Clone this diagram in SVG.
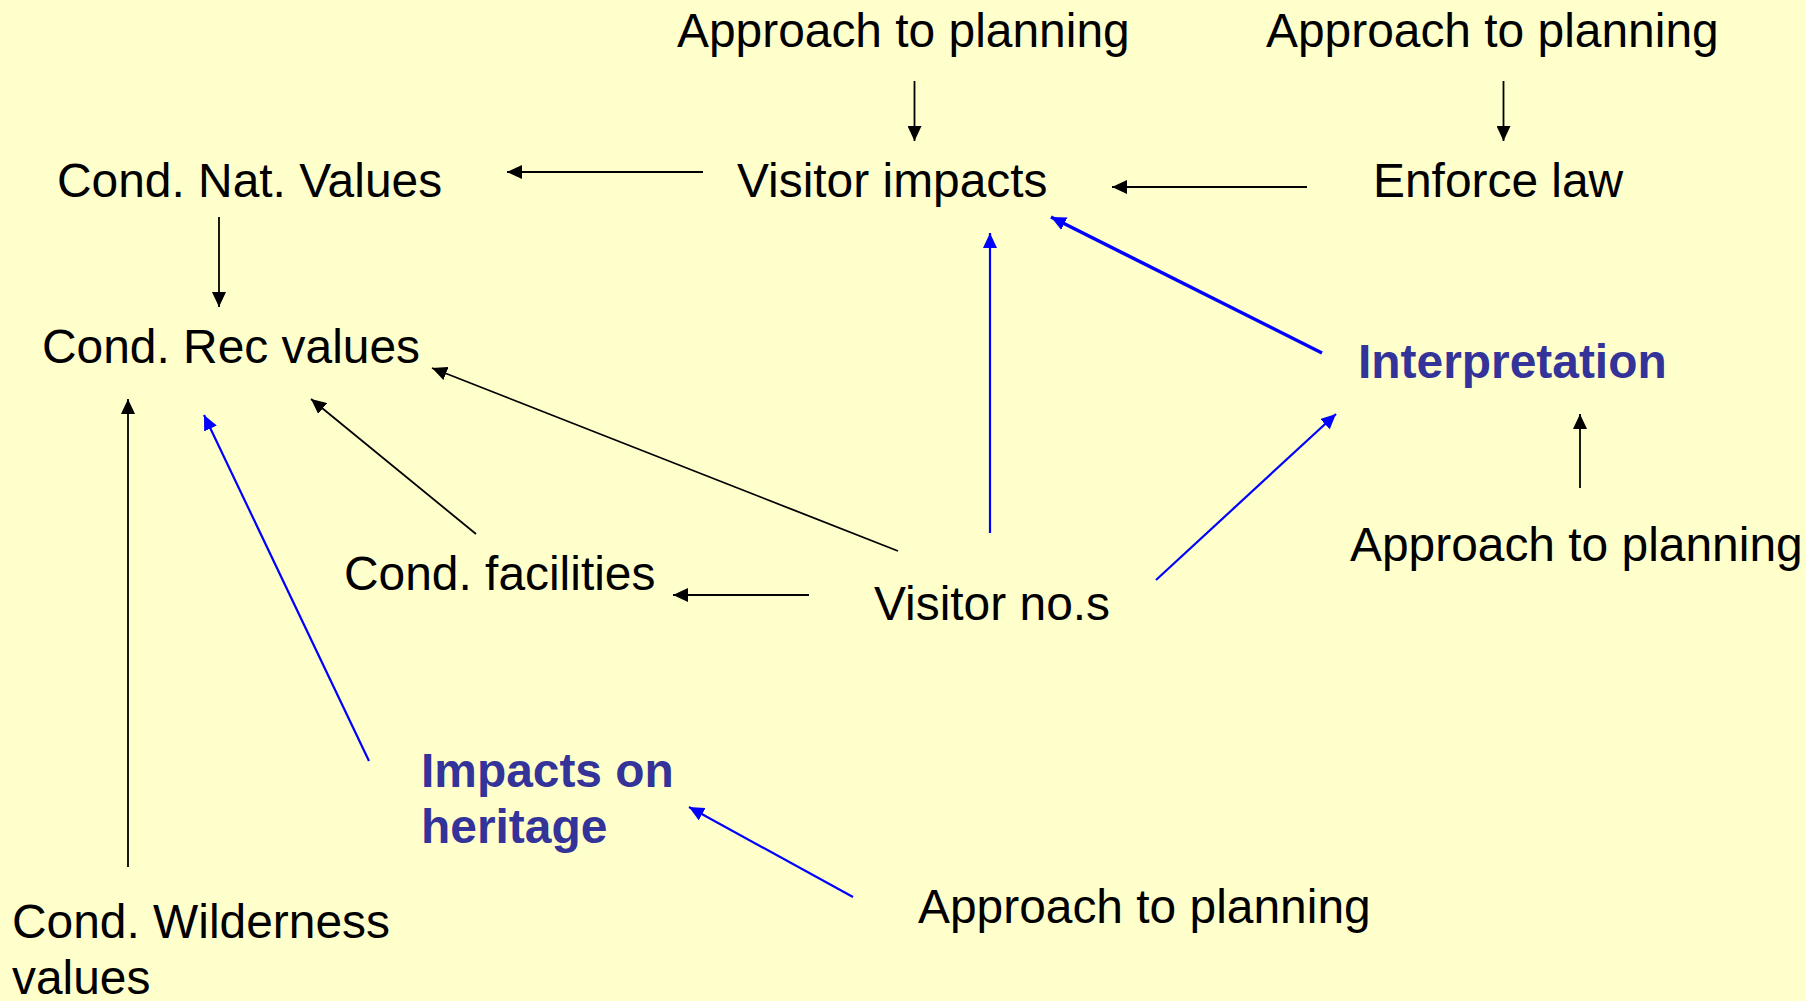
<svg xmlns="http://www.w3.org/2000/svg" width="1806" height="1001" viewBox="0 0 1806 1001">
<style>
text{font-family:"Liberation Sans",Arial,sans-serif;font-size:47.9px;fill:#000}
.b{font-weight:bold;fill:#333399}
.k{stroke:#000;stroke-width:1.8;fill:none}
.u{stroke:#0000FF;stroke-width:2.2;fill:none}
.uu{stroke:#0000FF;stroke-width:3.5;fill:none}
</style>
<defs>
<marker id="ak" markerUnits="userSpaceOnUse" viewBox="0 0 15 14" markerWidth="15" markerHeight="14" refX="15" refY="7" orient="auto"><path d="M0,0 L15,7 L0,14 z" fill="#000"/></marker>
<marker id="au" markerUnits="userSpaceOnUse" viewBox="0 0 15 14" markerWidth="15" markerHeight="14" refX="15" refY="7" orient="auto"><path d="M0,0 L15,7 L0,14 z" fill="#0000FF"/></marker>
</defs>
<rect width="1806" height="1001" fill="#FFFFCC"/>
<g id="connectors">
<line class="k" x1="914.5" y1="81" x2="914.5" y2="141" marker-end="url(#ak)"/>
<line class="k" x1="1503.5" y1="81" x2="1503.5" y2="141" marker-end="url(#ak)"/>
<line class="k" x1="703" y1="172" x2="507" y2="172" marker-end="url(#ak)"/>
<line class="k" x1="1307" y1="187" x2="1112" y2="187" marker-end="url(#ak)"/>
<line class="k" x1="219" y1="217" x2="219" y2="307" marker-end="url(#ak)"/>
<line class="k" x1="128" y1="867" x2="128" y2="399" marker-end="url(#ak)"/>
<line class="u" x1="369" y1="761" x2="204" y2="415" marker-end="url(#au)"/>
<line class="k" x1="476" y1="534" x2="311" y2="399" marker-end="url(#ak)"/>
<line class="k" x1="898" y1="551" x2="432" y2="368" marker-end="url(#ak)"/>
<line class="k" x1="809" y1="595" x2="673" y2="595" marker-end="url(#ak)"/>
<line class="u" x1="990" y1="533" x2="990" y2="233" marker-end="url(#au)"/>
<line class="uu" x1="1322" y1="353" x2="1051" y2="217" marker-end="url(#au)"/>
<line class="u" x1="1156" y1="580" x2="1336" y2="414" marker-end="url(#au)"/>
<line class="k" x1="1580" y1="488" x2="1580" y2="414" marker-end="url(#ak)"/>
<line class="u" x1="853" y1="897" x2="689" y2="807" marker-end="url(#au)"/>
</g>
<g id="approach-1"><text x="677" y="47">Approach to planning</text></g>
<g id="approach-2"><text x="1266" y="47">Approach to planning</text></g>
<g id="cond-nat-values"><text x="57" y="197">Cond. Nat. Values</text></g>
<g id="visitor-impacts"><text x="737" y="197">Visitor impacts</text></g>
<g id="enforce-law"><text x="1373" y="197">Enforce law</text></g>
<g id="cond-rec-values"><text x="42" y="363">Cond. Rec values</text></g>
<g id="interpretation"><text class="b" x="1358" y="378">Interpretation</text></g>
<g id="approach-3"><text x="1350" y="561">Approach to planning</text></g>
<g id="cond-facilities"><text x="344" y="590">Cond. facilities</text></g>
<g id="visitor-nos"><text x="874" y="620">Visitor no.s</text></g>
<g id="impacts-on-heritage"><text class="b" x="421" y="787">Impacts on<tspan x="421" y="843">heritage</tspan></text></g>
<g id="approach-4"><text x="918" y="923">Approach to planning</text></g>
<g id="cond-wilderness"><text x="12" y="938">Cond. Wilderness<tspan x="12" y="994">values</tspan></text></g>
</svg>
